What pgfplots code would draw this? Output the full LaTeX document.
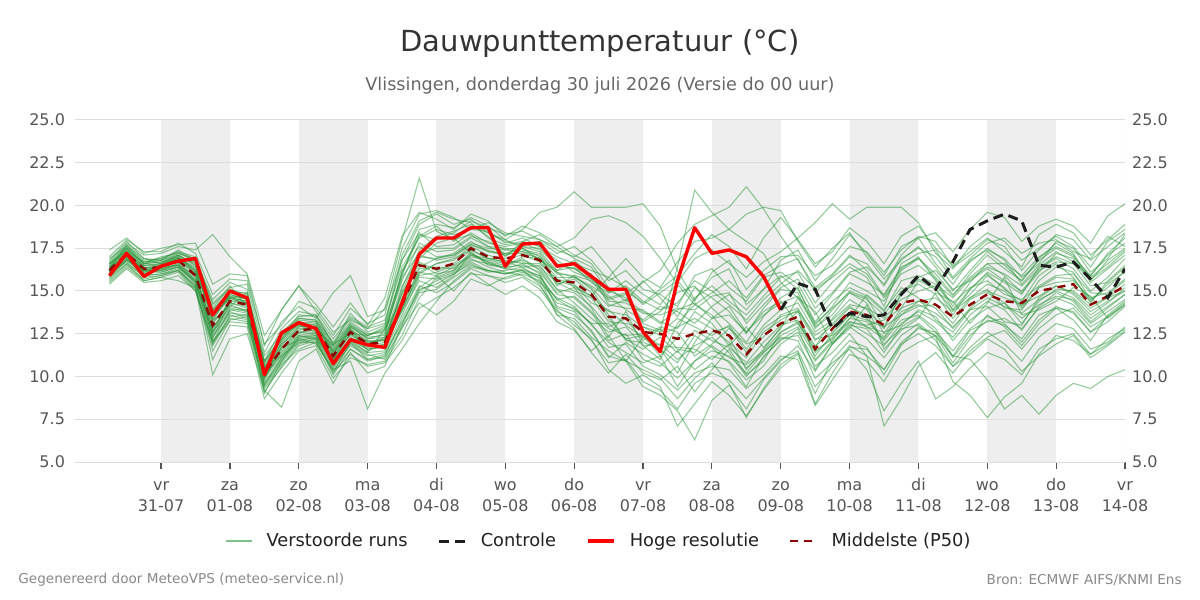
\documentclass[border=0pt]{standalone}
\usepackage{fontspec}
\setmainfont{DejaVu Sans}
\usepackage{pgfplots}
\pgfplotsset{compat=1.18}
\definecolor{ens}{RGB}{44,150,60}
\definecolor{band}{RGB}{238,238,238}
\definecolor{gridc}{RGB}{221,221,221}
\definecolor{tickc}{RGB}{85,85,85}
\definecolor{p50}{RGB}{140,0,0}
\definecolor{ctrl}{RGB}{30,30,30}
\definecolor{titlec}{RGB}{51,51,51}
\definecolor{subc}{RGB}{102,102,102}
\definecolor{footc}{RGB}{136,136,136}
\pgfplotsset{ensl/.style={ens, opacity=0.5, line width=0.55pt, forget plot}}
\newcommand{\tl}[2]{\begin{tabular}{@{}c@{}}#1\\#2\end{tabular}}
\begin{document}
\begin{tikzpicture}
\useasboundingbox (0,0) rectangle (600pt,300pt);
\node[font=\fontsize{14.5}{17}\selectfont, text=titlec] at (300pt,278pt) {Dauwpunttemperatuur (°C)};
\node[font=\fontsize{8.8}{10}\selectfont, text=subc] at (300pt,257pt) {Vlissingen, donderdag 30 juli 2026 (Versie do 00 uur)};
\node[font=\fontsize{6.8}{8}\selectfont, text=footc, anchor=west, inner sep=0pt] at (9pt,10pt) {Gegenereerd door MeteoVPS (meteo-service.nl)};
\node[font=\fontsize{6.8}{8}\selectfont, text=footc, anchor=east, inner sep=0pt] at (591pt,10pt) {Bron: ECMWF AIFS/KNMI Ens};
\begin{axis}[
  at={(37.5pt,69pt)}, anchor=south west,
  scale only axis, width=525pt, height=171pt,
  xmin=-0.25, xmax=15, ymin=5, ymax=25,
  axis line style={draw=none},
  ytick={5,7.5,10,12.5,15,17.5,20,22.5,25},
  y tick style={draw=none},
  /pgf/number format/assume math mode=true,
  yticklabel style={/pgf/number format/fixed, /pgf/number format/fixed zerofill, /pgf/number format/precision=1, font=\fontsize{8}{10}\selectfont, text=tickc, xshift=2pt},
  xtick={1,...,15},
  xticklabels={{\tl{vr}{31-07}},{\tl{za}{01-08}},{\tl{zo}{02-08}},{\tl{ma}{03-08}},{\tl{di}{04-08}},{\tl{wo}{05-08}},{\tl{do}{06-08}},{\tl{vr}{07-08}},{\tl{za}{08-08}},{\tl{zo}{09-08}},{\tl{ma}{10-08}},{\tl{di}{11-08}},{\tl{wo}{12-08}},{\tl{do}{13-08}},{\tl{vr}{14-08}}},
  xticklabel style={font=\fontsize{8}{10.5}\selectfont, text=tickc},
  xtick pos=bottom, tick align=outside, major tick length=3.5pt,
  x tick style={tickc, line width=0.6pt},
  legend columns=4,
  legend style={at={(0.5,-0.231)}, anchor=center, draw=none, fill=none,
    font=\fontsize{8.9}{10}\selectfont, text=black!87,
    /tikz/every odd column/.append style={column sep=5pt},
    /tikz/every even column/.append style={column sep=13pt}},
  legend image code/.code={\draw[#1] (0pt,0pt) -- (13pt,0pt);},
]
% day bands
\fill[band] (axis cs:1,5) rectangle (axis cs:2,25);
\fill[band] (axis cs:3,5) rectangle (axis cs:4,25);
\fill[band] (axis cs:5,5) rectangle (axis cs:6,25);
\fill[band] (axis cs:7,5) rectangle (axis cs:8,25);
\fill[band] (axis cs:9,5) rectangle (axis cs:10,25);
\fill[band] (axis cs:11,5) rectangle (axis cs:12,25);
\fill[band] (axis cs:13,5) rectangle (axis cs:14,25);
% horizontal grid
\draw[gridc, line width=0.5pt] (axis cs:-0.25,5) -- (axis cs:15,5);
\draw[gridc, line width=0.5pt] (axis cs:-0.25,7.5) -- (axis cs:15,7.5);
\draw[gridc, line width=0.5pt] (axis cs:-0.25,10) -- (axis cs:15,10);
\draw[gridc, line width=0.5pt] (axis cs:-0.25,12.5) -- (axis cs:15,12.5);
\draw[gridc, line width=0.5pt] (axis cs:-0.25,15) -- (axis cs:15,15);
\draw[gridc, line width=0.5pt] (axis cs:-0.25,17.5) -- (axis cs:15,17.5);
\draw[gridc, line width=0.5pt] (axis cs:-0.25,20) -- (axis cs:15,20);
\draw[gridc, line width=0.5pt] (axis cs:-0.25,22.5) -- (axis cs:15,22.5);
\draw[gridc, line width=0.5pt] (axis cs:-0.25,25) -- (axis cs:15,25);
\draw[gridc, line width=0.5pt] (axis cs:15,5) -- (axis cs:15,25);
% ensemble members (6-hourly)
\addplot[ensl] coordinates {(0.25,16.5)(0.5,17.6)(0.75,16.8)(1,16.9)(1.25,17.3)(1.5,17.0)(1.75,14.2)(2,15.1)(2.25,14.8)(2.5,11.2)(2.75,12.5)(3,13.4)(3.25,13.3)(3.5,12.0)(3.75,13.4)(4,12.8)(4.25,14.0)(4.5,18.0)(4.75,21.6)(5,18.5)
(5.25,18.0)(5.5,18.3)(5.75,17.6)(6,17.2)(6.25,17.5)(6.5,17.0)(6.75,16.2)(7,16.8)(7.25,15.9)(7.5,14.5)(7.75,14.8)(8,13.2)(8.25,13.8)(8.5,14.9)(8.75,15.3)(9,14.0)(9.25,13.1)(9.5,12.0)(9.75,13.5)(10,14.6)
(10.25,15.2)(10.5,13.0)(10.75,14.1)(11,15.5)(11.25,15.0)(11.5,14.4)(11.75,16.2)(12,16.9)(12.25,15.8)(12.5,14.7)(12.75,16.0)(13,17.1)(13.25,16.3)(13.5,15.6)(13.75,16.9)(14,17.8)(14.25,17.2)(14.5,15.5)(14.75,16.3)(15,17.1)};
\addplot[ensl] coordinates {(0.25,15.6)(0.5,16.5)(0.75,15.7)(1,15.9)(1.25,16.2)(1.5,15.1)(1.75,11.8)(2,13.5)(2.25,13.6)(2.5,9.4)(2.75,10.7)(3,11.6)(3.25,12.0)(3.5,10.3)(3.75,11.3)(4,10.6)(4.25,10.8)(4.5,12.1)(4.75,14.0)(5,14.6)
(5.25,15.2)(5.5,16.0)(5.75,15.9)(6,15.5)(6.25,15.8)(6.5,15.1)(6.75,13.8)(7,13.2)(7.25,12.1)(7.5,10.8)(7.75,11.0)(8,9.7)(8.25,9.2)(8.5,8.1)(8.75,9.6)(9,10.2)(9.25,9.8)(9.5,8.7)(9.75,9.9)(10,11.0)
(10.25,11.5)(10.5,9.4)(10.75,10.6)(11,11.8)(11.25,11.2)(11.5,10.4)(11.75,11.9)(12,12.5)(12.25,11.8)(12.5,10.6)(12.75,11.7)(13,12.6)(13.25,11.9)(13.5,10.9)(13.75,12.3)(14,13.1)(14.25,12.8)(14.5,11.6)(14.75,12.0)(15,12.9)};
\addplot[ensl] coordinates {(0.25,16.1)(0.5,17.3)(0.75,16.1)(1,16.5)(1.25,16.9)(1.5,16.4)(1.75,13.3)(2,14.8)(2.25,14.5)(2.5,10.0)(2.75,12.0)(3,13.0)(3.25,12.6)(3.5,10.8)(3.75,12.2)(4,11.6)(4.25,11.8)(4.5,15.2)(4.75,17.4)(5,18.2)
(5.25,18.5)(5.5,18.9)(5.75,18.2)(6,17.0)(6.25,17.9)(6.5,17.6)(6.75,16.8)(7,16.1)(7.25,15.7)(7.5,15.0)(7.75,14.6)(8,13.1)(8.25,12.7)(8.5,16.4)(8.75,20.9)(9,19.6)(9.25,18.6)(9.5,17.9)(9.75,17.2)(10,15.5)
(10.25,14.6)(10.5,12.9)(10.75,13.6)(11,14.9)(11.25,14.3)(11.5,12.5)(11.75,14.0)(12,15.6)(12.25,15.1)(12.5,13.9)(12.75,14.8)(13,15.9)(13.25,15.2)(13.5,14.1)(13.75,15.6)(14,16.4)(14.25,16.1)(14.5,14.5)(14.75,15.2)(15,16.2)};
\addplot[ensl] coordinates {(0.25,16.4)(0.5,17.0)(0.75,16.4)(1,16.2)(1.25,16.6)(1.5,15.6)(1.75,12.6)(2,14.1)(2.25,13.9)(2.5,9.0)(2.75,10.9)(3,12.3)(3.25,12.5)(3.5,11.0)(3.75,12.8)(4,11.5)(4.25,11.9)(4.5,13.8)(4.75,15.6)(5,15.2)
(5.25,15.9)(5.5,17.2)(5.75,16.7)(6,16.3)(6.25,16.6)(6.5,16.0)(6.75,14.1)(7,13.8)(7.25,12.6)(7.5,11.2)(7.75,10.9)(8,9.4)(8.25,8.9)(8.5,8.0)(8.75,6.3)(9,8.6)(9.25,9.5)(9.5,8.1)(9.75,9.8)(10,10.9)
(10.25,11.8)(10.5,10.3)(10.75,11.9)(11,13.0)(11.25,12.8)(11.5,11.4)(11.75,12.9)(12,13.5)(12.25,12.6)(12.5,11.1)(12.75,12.4)(13,13.3)(13.25,13.0)(13.5,12.2)(13.75,13.6)(14,14.0)(14.25,13.8)(14.5,12.6)(14.75,13.2)(15,14.1)};
\addplot[ensl] coordinates {(0.25,16.8)(0.5,17.9)(0.75,16.9)(1,16.8)(1.25,17.4)(1.5,16.8)(1.75,13.9)(2,14.9)(2.25,14.9)(2.5,10.8)(2.75,12.3)(3,13.6)(3.25,13.5)(3.5,11.9)(3.75,13.2)(4,12.5)(4.25,12.6)(4.5,15.9)(4.75,18.6)(5,18.9)
(5.25,18.7)(5.5,19.3)(5.75,18.8)(6,18.0)(6.25,18.6)(6.5,19.6)(6.75,19.9)(7,20.8)(7.25,19.9)(7.5,19.9)(7.75,19.9)(8,20.1)(8.25,18.8)(8.5,16.2)(8.75,14.5)(9,15.8)(9.25,16.3)(9.5,14.2)(9.75,15.1)(10,16.8)
(10.25,17.4)(10.5,15.6)(10.75,16.9)(11,18.3)(11.25,17.2)(11.5,15.9)(11.75,17.6)(12,18.1)(12.25,16.6)(12.5,15.4)(12.75,16.8)(13,17.4)(13.25,16.9)(13.5,15.8)(13.75,16.6)(14,17.9)(14.25,17.5)(14.5,16.1)(14.75,16.9)(15,18.3)};
\addplot[ensl] coordinates {(0.25,16.0)(0.5,16.9)(0.75,16.0)(1,16.3)(1.25,16.5)(1.5,15.5)(1.75,12.9)(2,14.0)(2.25,13.8)(2.5,10.3)(2.75,11.4)(3,12.5)(3.25,12.9)(3.5,11.4)(3.75,12.4)(4,11.9)(4.25,12.2)(4.5,14.9)(4.75,16.6)(5,16.0)
(5.25,16.2)(5.5,17.3)(5.75,16.5)(6,16.4)(6.25,16.9)(6.5,16.2)(6.75,14.9)(7,15.2)(7.25,14.0)(7.5,12.3)(7.75,13.8)(8,11.8)(8.25,11.0)(8.5,13.1)(8.75,14.2)(9,13.6)(9.25,12.3)(9.5,10.4)(9.75,11.6)(10,12.9)
(10.25,13.8)(10.5,11.0)(10.75,12.1)(11,13.4)(11.25,14.8)(11.5,13.9)(11.75,15.2)(12,14.6)(12.25,13.3)(12.5,12.6)(12.75,13.9)(13,14.1)(13.25,13.2)(13.5,13.0)(13.75,14.6)(14,15.3)(14.25,14.8)(14.5,13.8)(14.75,14.4)(15,15.0)};
\addplot[ensl] coordinates {(0.25,16.3)(0.5,17.5)(0.75,16.6)(1,16.7)(1.25,17.0)(1.5,16.1)(1.75,12.2)(2,14.4)(2.25,14.3)(2.5,9.8)(2.75,11.8)(3,12.9)(3.25,13.1)(3.5,11.3)(3.75,12.9)(4,12.3)(4.25,12.4)(4.5,16.2)(4.75,17.6)(5,17.0)
(5.25,17.1)(5.5,17.8)(5.75,17.5)(6,17.4)(6.25,17.3)(6.5,17.1)(6.75,15.3)(7,15.9)(7.25,15.1)(7.5,13.6)(7.75,12.1)(8,12.0)(8.25,11.6)(8.5,10.2)(8.75,12.0)(9,13.4)(9.25,14.1)(9.5,12.6)(9.75,13.8)(10,14.4)
(10.25,13.1)(10.5,11.7)(10.75,13.4)(11,14.5)(11.25,13.9)(11.5,12.8)(11.75,14.9)(12,15.8)(12.25,16.2)(12.5,15.1)(12.75,15.6)(13,16.3)(13.25,15.6)(13.5,15.0)(13.75,16.2)(14,16.7)(14.25,16.6)(14.5,15.3)(14.75,15.5)(15,16.4)};
\addplot[ensl] coordinates {(0.25,16.0)(0.5,17.1)(0.75,16.2)(1,16.1)(1.25,16.4)(1.5,15.4)(1.75,12.4)(2,13.8)(2.25,13.4)(2.5,9.6)(2.75,10.9)(3,12.1)(3.25,12.3)(3.5,10.6)(3.75,11.8)(4,11.2)(4.25,11.4)(4.5,13.2)(4.75,15.1)(5,15.4)
(5.25,16.0)(5.5,16.6)(5.75,16.1)(6,16.2)(6.25,16.4)(6.5,16.5)(6.75,15.1)(7,14.3)(7.25,13.4)(7.5,12.6)(7.75,12.9)(8,11.8)(8.25,11.9)(8.5,11.0)(8.75,11.8)(9,12.3)(9.25,11.4)(9.5,10.0)(9.75,11.1)(10,12.2)
(10.25,12.4)(10.5,10.6)(10.75,11.4)(11,12.5)(11.25,11.2)(11.5,7.1)(11.75,8.7)(12,10.6)(12.25,11.4)(12.5,10.2)(12.75,11.5)(13,12.3)(13.25,12.7)(13.5,11.6)(13.75,12.8)(14,13.6)(14.25,14.0)(14.5,12.9)(14.75,13.5)(15,14.2)};
\addplot[ensl] coordinates {(0.25,16.6)(0.5,17.4)(0.75,16.5)(1,16.6)(1.25,17.1)(1.5,16.6)(1.75,13.5)(2,14.6)(2.25,14.4)(2.5,10.6)(2.75,12.1)(3,13.2)(3.25,13.0)(3.5,11.6)(3.75,12.9)(4,12.2)(4.25,12.3)(4.5,15.3)(4.75,17.0)(5,16.9)
(5.25,17.2)(5.5,17.9)(5.75,17.3)(6,17.1)(6.25,17.6)(6.5,17.3)(6.75,16.2)(7,16.4)(7.25,15.5)(7.5,14.9)(7.75,15.6)(8,14.8)(8.25,14.2)(8.5,15.5)(8.75,16.9)(9,17.4)(9.25,16.6)(9.5,15.8)(9.75,16.7)(10,17.3)
(10.25,18.1)(10.5,19.0)(10.75,20.1)(11,19.2)(11.25,19.9)(11.5,19.9)(11.75,19.9)(12,19.0)(12.25,17.2)(12.5,16.3)(12.75,17.6)(13,18.4)(13.25,17.9)(13.5,16.8)(13.75,17.5)(14,18.2)(14.25,17.6)(14.5,16.4)(14.75,17.9)(15,18.6)};
\addplot[ensl] coordinates {(0.25,15.8)(0.5,16.8)(0.75,15.9)(1,16.0)(1.25,16.3)(1.5,15.2)(1.75,11.5)(2,13.3)(2.25,13.5)(2.5,10.1)(2.75,11.2)(3,12.0)(3.25,12.2)(3.5,10.2)(3.75,12.0)(4,11.0)(4.25,11.1)(4.5,12.9)(4.75,14.3)(5,13.6)
(5.25,14.4)(5.5,15.7)(5.75,15.3)(6,15.8)(6.25,16.1)(6.5,15.8)(6.75,14.5)(7,14.7)(7.25,13.8)(7.5,12.1)(7.75,12.5)(8,11.0)(8.25,10.6)(8.5,11.5)(8.75,10.4)(9,11.2)(9.25,10.9)(9.5,9.8)(9.75,10.6)(10,11.9)
(10.25,12.6)(10.5,10.9)(10.75,12.0)(11,12.9)(11.25,12.2)(11.5,11.1)(11.75,12.4)(12,13.1)(12.25,12.3)(12.5,9.7)(12.75,8.9)(13,7.6)(13.25,8.8)(13.5,9.6)(13.75,11.3)(14,12.4)(14.25,12.1)(14.5,11.3)(14.75,12.2)(15,12.8)};
\addplot[ensl] coordinates {(0.25,16.2)(0.5,17.1)(0.75,16.3)(1,16.5)(1.25,16.7)(1.5,15.8)(1.75,13.1)(2,14.3)(2.25,14.0)(2.5,10.4)(2.75,11.7)(3,12.6)(3.25,12.7)(3.5,11.0)(3.75,12.5)(4,11.8)(4.25,12.0)(4.5,14.3)(4.75,16.1)(5,15.9)
(5.25,16.4)(5.5,17.0)(5.75,16.8)(6,16.6)(6.25,16.8)(6.5,16.4)(6.75,15.5)(7,15.0)(7.25,14.6)(7.5,13.2)(7.75,13.1)(8,12.9)(8.25,12.4)(8.5,12.9)(8.75,13.4)(9,12.8)(9.25,12.0)(9.5,11.1)(9.75,12.6)(10,13.3)
(10.25,13.9)(10.5,12.4)(10.75,13.1)(11,14.1)(11.25,13.4)(11.5,12.1)(11.75,13.3)(12,13.6)(12.25,12.8)(12.5,11.2)(12.75,11.0)(13,9.8)(13.25,8.1)(13.5,8.9)(13.75,7.8)(14,8.9)(14.25,9.6)(14.5,9.3)(14.75,10.0)(15,10.4)};
\addplot[ensl] coordinates {(0.25,16.4)(0.5,17.3)(0.75,16.3)(1,16.6)(1.25,17.0)(1.5,16.3)(1.75,13.8)(2,14.7)(2.25,14.6)(2.5,10.9)(2.75,12.4)(3,13.0)(3.25,12.8)(3.5,11.8)(3.75,13.7)(4,12.6)(4.25,13.0)(4.5,16.8)(4.75,18.4)(5,17.6)
(5.25,17.7)(5.5,18.4)(5.75,17.8)(6,17.6)(6.25,17.8)(6.5,17.4)(6.75,16.5)(7,16.3)(7.25,16.0)(7.5,14.2)(7.75,14.0)(8,13.9)(8.25,13.2)(8.5,12.8)(8.75,14.6)(9,15.3)(9.25,14.4)(9.5,13.6)(9.75,14.7)(10,15.8)
(10.25,16.1)(10.5,14.3)(10.75,15.5)(11,16.4)(11.25,15.8)(11.5,14.1)(11.75,16.6)(12,17.2)(12.25,17.4)(12.5,15.8)(12.75,16.9)(13,17.8)(13.25,18.1)(13.5,17.2)(13.75,17.8)(14,18.0)(14.25,17.3)(14.5,16.9)(14.75,18.2)(15,17.6)};
\addplot[ensl] coordinates {(0.25,16.1)(0.5,17.2)(0.75,16.2)(1,16.3)(1.25,16.8)(1.5,16.0)(1.75,12.8)(2,14.3)(2.25,14.1)(2.5,9.9)(2.75,11.5)(3,12.6)(3.25,12.5)(3.5,10.9)(3.75,12.3)(4,11.7)(4.25,11.9)(4.5,14.0)(4.75,16.0)(5,16.6)
(5.25,16.8)(5.5,17.6)(5.75,17.1)(6,16.8)(6.25,16.6)(6.5,16.6)(6.75,15.7)(7,15.4)(7.25,14.3)(7.5,13.9)(7.75,13.0)(8,12.3)(8.25,12.9)(8.5,12.6)(8.75,11.2)(9,11.9)(9.25,12.8)(9.5,11.9)(9.75,12.3)(10,13.6)
(10.25,14.0)(10.5,12.2)(10.75,12.4)(11,13.2)(11.25,13.0)(11.5,13.3)(11.75,14.0)(12,14.4)(12.25,14.6)(12.5,13.8)(12.75,14.6)(13,15.1)(13.25,14.0)(13.5,13.9)(13.75,15.2)(14,15.5)(14.25,15.6)(14.5,14.6)(14.75,14.9)(15,15.7)};
\addplot[ensl] coordinates {(0.25,15.9)(0.5,16.9)(0.75,16.0)(1,16.2)(1.25,16.5)(1.5,15.6)(1.75,12.0)(2,13.9)(2.25,13.7)(2.5,9.7)(2.75,11.0)(3,12.2)(3.25,11.9)(3.5,10.4)(3.75,10.9)(4,8.1)(4.25,10.2)(4.5,11.6)(4.75,13.1)(5,14.4)
(5.25,15.6)(5.5,16.4)(5.75,16.2)(6,16.0)(6.25,16.2)(6.5,15.5)(6.75,14.6)(7,14.1)(7.25,13.0)(7.5,12.0)(7.75,11.4)(8,10.8)(8.25,11.2)(8.5,9.4)(8.75,10.9)(9,11.8)(9.25,11.1)(9.5,10.7)(9.75,11.5)(10,12.6)
(10.25,13.1)(10.5,11.4)(10.75,12.3)(11,13.4)(11.25,13.2)(11.5,12.3)(11.75,13.8)(12,14.2)(12.25,13.7)(12.5,12.9)(12.75,13.9)(13,14.6)(13.25,14.1)(13.5,13.7)(13.75,14.5)(14,15.0)(14.25,14.6)(14.5,13.6)(14.75,14.3)(15,15.2)};
\addplot[ensl] coordinates {(0.25,16.6)(0.5,17.7)(0.75,16.7)(1,16.8)(1.25,17.2)(1.5,16.8)(1.75,14.3)(2,15.2)(2.25,15.4)(2.5,11.4)(2.75,13.2)(3,14.1)(3.25,13.4)(3.5,14.9)(3.75,15.9)(4,13.5)(4.25,13.9)(4.5,16.8)(4.75,18.9)(5,19.5)
(5.25,18.9)(5.5,19.2)(5.75,18.4)(6,17.9)(6.25,17.7)(6.5,17.9)(6.75,17.2)(7,17.6)(7.25,16.8)(7.5,15.6)(7.75,16.2)(8,15.1)(8.25,14.8)(8.5,14.1)(8.75,15.9)(9,16.3)(9.25,15.2)(9.5,14.4)(9.75,15.8)(10,16.1)
(10.25,15.4)(10.5,13.6)(10.75,14.8)(11,16.0)(11.25,15.5)(11.5,14.8)(11.75,16.4)(12,16.9)(12.25,16.0)(12.5,14.8)(12.75,15.8)(13,16.6)(13.25,15.9)(13.5,14.9)(13.75,16.1)(14,17.2)(14.25,16.9)(14.5,15.7)(14.75,16.4)(15,17.3)};
\addplot[ensl] coordinates {(0.25,16.7)(0.5,17.8)(0.75,17.1)(1,17.2)(1.25,17.6)(1.5,17.4)(1.75,18.3)(2,17.0)(2.25,16.0)(2.5,12.4)(2.75,13.9)(3,15.3)(3.25,13.8)(3.5,12.4)(3.75,14.0)(4,13.1)(4.25,13.6)(4.5,17.5)(4.75,19.5)(5,19.7)
(5.25,19.3)(5.5,18.6)(5.75,19.0)(6,18.4)(6.25,18.2)(6.5,18.0)(6.75,17.4)(7,17.0)(7.25,17.6)(7.5,16.4)(7.75,15.0)(8,14.3)(8.25,15.1)(8.5,15.9)(8.75,17.2)(9,18.3)(9.25,17.6)(9.5,16.3)(9.75,18.1)(10,19.3)
(10.25,18.0)(10.5,16.6)(10.75,17.3)(11,18.7)(11.25,17.9)(11.5,16.6)(11.75,18.2)(12,18.8)(12.25,17.5)(12.5,16.5)(12.75,17.3)(13,18.1)(13.25,17.3)(13.5,16.4)(13.75,18.3)(14,18.9)(14.25,18.4)(14.5,17.1)(14.75,18.0)(15,18.9)};
\addplot[ensl] coordinates {(0.25,16.0)(0.5,16.7)(0.75,15.8)(1,15.9)(1.25,16.2)(1.5,15.3)(1.75,11.0)(2,13.0)(2.25,12.9)(2.5,8.7)(2.75,10.2)(3,11.5)(3.25,11.8)(3.5,9.9)(3.75,11.1)(4,10.7)(4.25,10.9)(4.5,12.4)(4.75,14.6)(5,15.8)
(5.25,16.2)(5.5,16.9)(5.75,16.4)(6,16.1)(6.25,15.9)(6.5,15.3)(6.75,13.9)(7,13.0)(7.25,12.2)(7.5,10.4)(7.75,9.6)(8,10.1)(8.25,9.4)(8.5,7.1)(8.75,8.4)(9,9.7)(9.25,8.9)(9.5,7.7)(9.75,9.2)(10,10.5)
(10.25,11.3)(10.5,9.0)(10.75,11.0)(11,12.1)(11.25,11.7)(11.5,10.1)(11.75,11.8)(12,12.9)(12.25,12.4)(12.5,10.8)(12.75,12.2)(13,13.6)(13.25,12.9)(13.5,11.8)(13.75,13.1)(14,14.0)(14.25,13.3)(14.5,12.1)(14.75,13.6)(15,14.4)};
\addplot[ensl] coordinates {(0.25,16.2)(0.5,17.0)(0.75,16.1)(1,16.3)(1.25,16.6)(1.5,15.7)(1.75,13.2)(2,14.2)(2.25,13.8)(2.5,10.0)(2.75,11.3)(3,12.4)(3.25,12.6)(3.5,11.1)(3.75,12.2)(4,12.1)(4.25,11.6)(4.5,14.1)(4.75,16.3)(5,16.4)
(5.25,16.3)(5.5,17.1)(5.75,16.7)(6,16.5)(6.25,17.0)(6.5,16.9)(6.75,15.4)(7,15.7)(7.25,14.9)(7.5,13.4)(7.75,12.2)(8,11.6)(8.25,12.3)(8.5,11.4)(8.75,12.7)(9,12.1)(9.25,11.7)(9.5,10.8)(9.75,12.0)(10,13.0)
(10.25,13.3)(10.5,11.8)(10.75,12.6)(11,13.6)(11.25,13.3)(11.5,12.9)(11.75,13.6)(12,14.1)(12.25,14.2)(12.5,13.1)(12.75,14.5)(13,15.0)(13.25,14.6)(13.5,14.2)(13.75,14.7)(14,15.3)(14.25,14.9)(14.5,14.0)(14.75,14.6)(15,15.0)};
\addplot[ensl] coordinates {(0.25,16.3)(0.5,17.2)(0.75,16.5)(1,16.5)(1.25,16.9)(1.5,16.2)(1.75,13.4)(2,14.6)(2.25,14.2)(2.5,10.5)(2.75,11.9)(3,12.9)(3.25,12.9)(3.5,11.5)(3.75,12.7)(4,12.1)(4.25,12.1)(4.5,15.0)(4.75,17.1)(5,16.8)
(5.25,17.0)(5.5,17.7)(5.75,17.3)(6,17.2)(6.25,17.2)(6.5,16.9)(6.75,15.8)(7,15.8)(7.25,15.3)(7.5,14.6)(7.75,14.9)(8,15.5)(8.25,16.2)(8.5,17.8)(8.75,18.9)(9,19.4)(9.25,19.9)(9.5,21.1)(9.75,19.8)(10,18.2)
(10.25,16.8)(10.5,15.2)(10.75,16.0)(11,17.1)(11.25,16.2)(11.5,14.7)(11.75,16.3)(12,17.0)(12.25,15.6)(12.5,13.9)(12.75,15.1)(13,16.0)(13.25,15.1)(13.5,14.4)(13.75,15.9)(14,16.6)(14.25,15.8)(14.5,14.3)(14.75,15.6)(15,16.5)};
\addplot[ensl] coordinates {(0.25,15.7)(0.5,16.6)(0.75,15.6)(1,15.8)(1.25,16.1)(1.5,15.0)(1.75,11.9)(2,13.6)(2.25,13.3)(2.5,9.3)(2.75,10.5)(3,11.8)(3.25,12.1)(3.5,10.1)(3.75,11.6)(4,10.9)(4.25,11.2)(4.5,13.4)(4.75,15.3)(5,14.9)
(5.25,15.5)(5.5,16.3)(5.75,15.9)(6,15.7)(6.25,16.0)(6.5,15.6)(6.75,14.3)(7,14.0)(7.25,13.1)(7.5,11.7)(7.75,11.9)(8,10.6)(8.25,10.1)(8.5,9.2)(8.75,10.2)(9,10.6)(9.25,10.4)(9.5,9.3)(9.75,10.1)(10,11.2)
(10.25,11.0)(10.5,8.3)(10.75,9.8)(11,11.3)(11.25,10.9)(11.5,9.7)(11.75,11.4)(12,12.0)(12.25,12.4)(12.5,11.2)(12.75,12.7)(13,13.2)(13.25,13.4)(13.5,12.8)(13.75,14.0)(14,14.6)(14.25,14.2)(14.5,13.1)(14.75,13.8)(15,14.5)};
\addplot[ensl] coordinates {(0.25,16.4)(0.5,17.4)(0.75,16.4)(1,16.4)(1.25,16.8)(1.5,16.0)(1.75,12.7)(2,14.5)(2.25,14.3)(2.5,10.2)(2.75,11.6)(3,12.8)(3.25,12.8)(3.5,11.2)(3.75,12.5)(4,11.9)(4.25,12.3)(4.5,14.8)(4.75,16.7)(5,16.2)
(5.25,16.6)(5.5,17.4)(5.75,16.9)(6,16.9)(6.25,17.1)(6.5,16.7)(6.75,15.6)(7,15.3)(7.25,14.7)(7.5,13.8)(7.75,13.6)(8,12.9)(8.25,12.6)(8.5,13.4)(8.75,12.9)(9,12.4)(9.25,13.0)(9.5,11.6)(9.75,13.0)(10,13.9)
(10.25,14.3)(10.5,12.6)(10.75,13.3)(11,14.2)(11.25,14.0)(11.5,13.4)(11.75,14.5)(12,15.0)(12.25,15.3)(12.5,14.3)(12.75,15.2)(13,15.6)(13.25,14.8)(13.5,14.5)(13.75,15.3)(14,15.9)(14.25,16.0)(14.5,14.9)(14.75,14.8)(15,15.6)};
\addplot[ensl] coordinates {(0.25,16.5)(0.5,17.5)(0.75,16.6)(1,16.7)(1.25,17.1)(1.5,16.5)(1.75,13.6)(2,14.8)(2.25,14.5)(2.5,10.7)(2.75,12.2)(3,13.3)(3.25,13.2)(3.5,11.7)(3.75,13.1)(4,12.4)(4.25,12.7)(4.5,15.6)(4.75,17.8)(5,17.3)
(5.25,17.4)(5.5,18.1)(5.75,17.6)(6,17.5)(6.25,17.4)(6.5,17.2)(6.75,16.0)(7,15.9)(7.25,15.6)(7.5,14.4)(7.75,14.3)(8,13.7)(8.25,13.6)(8.5,14.0)(8.75,13.9)(9,14.7)(9.25,14.9)(9.5,13.1)(9.75,14.2)(10,15.2)
(10.25,15.7)(10.5,14.0)(10.75,14.9)(11,16.1)(11.25,16.4)(11.5,15.4)(11.75,17.1)(12,18.1)(12.25,18.4)(12.5,17.3)(12.75,18.6)(13,19.6)(13.25,19.3)(13.5,17.9)(13.75,18.8)(14,19.2)(14.25,18.8)(14.5,17.8)(14.75,19.4)(15,20.1)};
\addplot[ensl] coordinates {(0.25,15.9)(0.5,16.8)(0.75,16.1)(1,16.1)(1.25,16.4)(1.5,15.5)(1.75,12.3)(2,13.7)(2.25,13.6)(2.5,9.5)(2.75,11.1)(3,12.3)(3.25,12.4)(3.5,10.7)(3.75,12.0)(4,11.4)(4.25,11.5)(4.5,13.6)(4.75,15.8)(5,15.7)
(5.25,16.1)(5.5,16.8)(5.75,16.6)(6,16.4)(6.25,16.5)(6.5,16.1)(6.75,14.8)(7,14.6)(7.25,13.7)(7.5,12.8)(7.75,12.4)(8,12.5)(8.25,11.8)(8.5,11.7)(8.75,11.6)(9,11.0)(9.25,11.9)(9.5,10.5)(9.75,11.4)(10,12.4)
(10.25,12.9)(10.5,11.2)(10.75,12.5)(11,13.6)(11.25,12.9)(11.5,12.6)(11.75,13.0)(12,13.9)(12.25,13.5)(12.5,12.1)(12.75,13.3)(13,14.0)(13.25,14.3)(13.5,13.4)(13.75,14.2)(14,14.7)(14.25,14.5)(14.5,13.4)(14.75,14.1)(15,14.8)};
\addplot[ensl] coordinates {(0.25,16.6)(0.5,17.5)(0.75,16.6)(1,16.8)(1.25,17.1)(1.5,16.5)(1.75,13.7)(2,14.6)(2.25,14.7)(2.5,10.5)(2.75,12.1)(3,13.1)(3.25,13.2)(3.5,11.5)(3.75,13.0)(4,12.2)(4.25,12.5)(4.5,15.8)(4.75,17.2)(5,17.5)
(5.25,17.5)(5.5,18.2)(5.75,17.9)(6,17.4)(6.25,17.6)(6.5,17.5)(6.75,16.6)(7,16.3)(7.25,15.7)(7.5,14.7)(7.75,13.9)(8,13.3)(8.25,14.1)(8.5,13.8)(8.75,13.1)(9,14.1)(9.25,14.8)(9.5,13.9)(9.75,15.1)(10,15.9)
(10.25,15.1)(10.5,13.2)(10.75,14.4)(11,15.2)(11.25,14.7)(11.5,13.8)(11.75,15.6)(12,15.9)(12.25,15.4)(12.5,14.6)(12.75,15.7)(13,16.4)(13.25,16.0)(13.5,15.3)(13.75,16.3)(14,16.9)(14.25,16.3)(14.5,15.0)(14.75,15.8)(15,16.9)};
\addplot[ensl] coordinates {(0.25,15.5)(0.5,16.4)(0.75,15.6)(1,15.8)(1.25,15.6)(1.5,15.2)(1.75,10.1)(2,12.2)(2.25,12.5)(2.5,9.2)(2.75,8.2)(3,10.9)(3.25,11.6)(3.5,9.6)(3.75,11.4)(4,10.2)(4.25,10.6)(4.5,13.0)(4.75,15.2)(5,15.9)
(5.25,15.0)(5.5,16.1)(5.75,15.4)(6,14.8)(6.25,15.3)(6.5,14.6)(6.75,13.2)(7,12.7)(7.25,11.5)(7.5,12.4)(7.75,10.9)(8,12.3)(8.25,11.6)(8.5,10.8)(8.75,12.4)(9,11.7)(9.25,10.8)(9.5,9.4)(9.75,11.2)(10,12.1)
(10.25,12.8)(10.5,10.4)(10.75,11.9)(11,13.1)(11.25,12.5)(11.5,11.8)(11.75,13.1)(12,13.8)(12.25,13.2)(12.5,12.3)(12.75,13.6)(13,14.4)(13.25,13.9)(13.5,12.7)(13.75,14.1)(14,14.9)(14.25,14.4)(14.5,13.2)(14.75,14.0)(15,14.8)};
\addplot[ensl] coordinates {(0.25,17.4)(0.5,18.1)(0.75,17.2)(1,17.5)(1.25,17.7)(1.5,17.8)(1.75,15.4)(2,16.0)(2.25,15.9)(2.5,11.8)(2.75,13.9)(3,15.3)(3.25,14.2)(3.5,12.9)(3.75,14.3)(4,13.0)(4.25,14.6)(4.5,18.2)(4.75,19.6)(5,19.2)
(5.25,18.6)(5.5,19.5)(5.75,19.1)(6,18.2)(6.25,18.8)(6.5,18.4)(6.75,17.8)(7,17.1)(7.25,16.6)(7.5,15.2)(7.75,14.4)(8,15.6)(8.25,14.6)(8.5,13.5)(8.75,15.2)(9,14.6)(9.25,13.8)(9.5,12.5)(9.75,14.0)(10,15.1)
(10.25,14.9)(10.5,12.8)(10.75,13.9)(11,15.0)(11.25,14.6)(11.5,12.9)(11.75,14.8)(12,15.7)(12.25,15.2)(12.5,13.6)(12.75,15.1)(13,16.1)(13.25,15.5)(13.5,14.8)(13.75,16.4)(14,17.0)(14.25,16.6)(14.5,15.9)(14.75,17.2)(15,18.1)};
\addplot[ensl] coordinates {(0.25,16.2)(0.5,17.0)(0.75,16.5)(1,16.6)(1.25,17.0)(1.5,16.2)(1.75,13.3)(2,14.1)(2.25,14.9)(2.5,10.6)(2.75,11.2)(3,12.4)(3.25,12.2)(3.5,11.0)(3.75,12.1)(4,11.4)(4.25,12.8)(4.5,14.4)(4.75,16.9)(5,17.8)
(5.25,18.1)(5.5,17.2)(5.75,16.6)(6,16.3)(6.25,16.2)(6.5,15.9)(6.75,14.5)(7,13.9)(7.25,13.1)(7.5,13.1)(7.75,12.2)(8,12.4)(8.25,11.2)(8.5,12.3)(8.75,13.8)(9,13.1)(9.25,11.8)(9.5,12.9)(9.75,11.7)(10,12.8)
(10.25,14.6)(10.5,13.8)(10.75,11.9)(11,12.8)(11.25,14.2)(11.5,11.6)(11.75,12.7)(12,13.4)(12.25,14.9)(12.5,14.4)(12.75,13.1)(13,14.3)(13.25,15.8)(13.5,13.6)(13.75,13.9)(14,14.4)(14.25,15.2)(14.5,14.7)(14.75,13.4)(15,14.2)};
\addplot[ensl] coordinates {(0.25,16.9)(0.5,17.6)(0.75,16.6)(1,17.0)(1.25,17.2)(1.5,16.9)(1.75,14.5)(2,15.5)(2.25,15.1)(2.5,10.9)(2.75,12.8)(3,13.8)(3.25,13.6)(3.5,12.2)(3.75,13.5)(4,12.9)(4.25,13.3)(4.5,16.4)(4.75,18.1)(5,18.6)
(5.25,18.3)(5.5,18.6)(5.75,18.5)(6,17.8)(6.25,18.1)(6.5,17.6)(6.75,17.0)(7,16.6)(7.25,16.2)(7.5,15.8)(7.75,15.2)(8,14.2)(8.25,14.9)(8.5,15.6)(8.75,14.4)(9,16.1)(9.25,16.8)(9.5,15.1)(9.75,16.2)(10,17.0)
(10.25,17.1)(10.5,15.9)(10.75,16.5)(11,17.6)(11.25,17.3)(11.5,16.1)(11.75,17.4)(12,18.2)(12.25,17.9)(12.5,16.4)(12.75,17.1)(13,18.0)(13.25,17.6)(13.5,16.2)(13.75,17.4)(14,18.3)(14.25,18.0)(14.5,16.8)(14.75,17.6)(15,18.4)};
\addplot[ensl] coordinates {(0.25,15.4)(0.5,16.3)(0.75,15.5)(1,15.6)(1.25,15.9)(1.5,15.0)(1.75,12.1)(2,13.2)(2.25,13.1)(2.5,9.1)(2.75,10.6)(3,11.9)(3.25,12.2)(3.5,10.5)(3.75,11.9)(4,11.3)(4.25,11.0)(4.5,12.8)(4.75,14.9)(5,15.1)
(5.25,15.8)(5.5,16.5)(5.75,16.2)(6,16.0)(6.25,16.3)(6.5,15.9)(6.75,14.0)(7,13.6)(7.25,12.7)(7.5,11.1)(7.75,12.0)(8,11.3)(8.25,10.8)(8.5,9.9)(8.75,10.9)(9,11.5)(9.25,11.2)(9.5,10.2)(9.75,11.4)(10,12.3)
(10.25,12.1)(10.5,9.9)(10.75,10.8)(11,11.6)(11.25,10.4)(11.5,8.0)(11.75,9.6)(12,10.9)(12.25,8.7)(12.5,9.4)(12.75,10.5)(13,11.4)(13.25,11.0)(13.5,10.1)(13.75,11.6)(14,12.2)(14.25,12.5)(14.5,11.3)(14.75,11.9)(15,12.7)};
\addplot[ensl] coordinates {(0.25,16.3)(0.5,17.7)(0.75,16.9)(1,16.6)(1.25,16.9)(1.5,16.7)(1.75,14.0)(2,15.3)(2.25,14.1)(2.5,10.3)(2.75,12.6)(3,13.5)(3.25,13.6)(3.5,11.9)(3.75,12.5)(4,12.4)(4.25,12.9)(4.5,16.0)(4.75,18.2)(5,18.8)
(5.25,17.9)(5.5,18.8)(5.75,18.4)(6,18.0)(6.25,17.5)(6.5,16.8)(6.75,16.1)(7,15.2)(7.25,14.7)(7.5,15.8)(7.75,16.9)(8,15.8)(8.25,15.2)(8.5,16.7)(8.75,17.9)(9,18.1)(9.25,18.6)(9.5,19.5)(9.75,19.9)(10,19.7)
(10.25,17.9)(10.5,16.4)(10.75,17.5)(11,18.4)(11.25,17.0)(11.5,15.7)(11.75,16.8)(12,17.6)(12.25,16.4)(12.5,15.0)(12.75,16.2)(13,17.3)(13.25,16.5)(13.5,15.6)(13.75,16.8)(14,17.5)(14.25,17.0)(14.5,15.9)(14.75,17.1)(15,17.8)};
\addplot[ensl] coordinates {(0.25,16.1)(0.5,16.9)(0.75,16.2)(1,16.4)(1.25,16.5)(1.5,15.9)(1.75,12.5)(2,14.6)(2.25,14.4)(2.5,10.1)(2.75,11.7)(3,12.1)(3.25,12.3)(3.5,11.3)(3.75,12.6)(4,12.0)(4.25,12.2)(4.5,13.9)(4.75,15.9)(5,16.1)
(5.25,16.5)(5.5,17.1)(5.75,16.9)(6,16.7)(6.25,16.7)(6.5,16.3)(6.75,15.1)(7,14.9)(7.25,14.1)(7.5,12.9)(7.75,13.4)(8,12.1)(8.25,12.8)(8.5,11.6)(8.75,11.4)(9,12.6)(9.25,12.9)(9.5,11.4)(9.75,12.8)(10,13.5)
(10.25,13.8)(10.5,12.1)(10.75,13.0)(11,14.0)(11.25,13.6)(11.5,11.9)(11.75,12.8)(12,13.0)(12.25,12.1)(12.5,10.6)(12.75,11.3)(13,12.2)(13.25,11.6)(13.5,10.3)(13.75,11.2)(14,11.9)(14.25,12.4)(14.5,11.1)(14.75,11.8)(15,12.6)};
\addplot[ensl] coordinates {(0.25,17.0)(0.5,18.0)(0.75,17.3)(1,17.3)(1.25,17.8)(1.5,17.2)(1.75,14.8)(2,15.7)(2.25,15.6)(2.5,11.9)(2.75,13.0)(3,14.4)(3.25,14.0)(3.5,12.6)(3.75,13.3)(4,12.8)(4.25,13.1)(4.5,17.1)(4.75,19.1)(5,19.6)
(5.25,19.2)(5.5,19.0)(5.75,18.1)(6,17.7)(6.25,17.9)(6.5,18.3)(6.75,17.6)(7,16.9)(7.25,16.4)(7.5,14.9)(7.75,15.3)(8,14.4)(8.25,13.9)(8.5,14.3)(8.75,15.6)(9,15.0)(9.25,14.2)(9.5,13.3)(9.75,14.5)(10,15.4)
(10.25,16.2)(10.5,15.1)(10.75,15.8)(11,16.6)(11.25,16.0)(11.5,14.6)(11.75,16.0)(12,16.5)(12.25,15.7)(12.5,14.1)(12.75,15.5)(13,16.6)(13.25,16.6)(13.5,15.9)(13.75,17.0)(14,17.6)(14.25,17.1)(14.5,15.8)(14.75,16.6)(15,17.4)};
\addplot[ensl] coordinates {(0.25,16.0)(0.5,16.8)(0.75,16.2)(1,16.2)(1.25,16.4)(1.5,15.6)(1.75,12.6)(2,13.9)(2.25,13.9)(2.5,9.9)(2.75,11.1)(3,12.2)(3.25,12.4)(3.5,10.9)(3.75,12.1)(4,11.6)(4.25,11.7)(4.5,13.9)(4.75,16.1)(5,16.6)
(5.25,16.9)(5.5,17.4)(5.75,16.9)(6,16.7)(6.25,16.4)(6.5,15.7)(6.75,13.6)(7,12.8)(7.25,11.4)(7.5,10.2)(7.75,11.3)(8,10.2)(8.25,9.8)(8.5,10.6)(8.75,9.1)(9,10.4)(9.25,11.6)(9.5,10.1)(9.75,10.9)(10,12.6)
(10.25,13.2)(10.5,11.5)(10.75,12.2)(11,13.2)(11.25,12.9)(11.5,12.2)(11.75,13.6)(12,14.4)(12.25,14.0)(12.5,12.8)(12.75,14.0)(13,14.9)(13.25,14.3)(13.5,13.1)(13.75,14.4)(14,15.1)(14.25,15.0)(14.5,14.2)(14.75,14.6)(15,15.4)};
\addplot[ensl] coordinates {(0.25,16.4)(0.5,17.1)(0.75,16.2)(1,16.5)(1.25,16.9)(1.5,16.1)(1.75,13.6)(2,14.7)(2.25,14.3)(2.5,10.4)(2.75,11.9)(3,12.7)(3.25,13.0)(3.5,11.4)(3.75,12.8)(4,12.0)(4.25,12.1)(4.5,14.6)(4.75,16.4)(5,16.9)
(5.25,17.1)(5.5,17.7)(5.75,17.4)(6,17.1)(6.25,17.3)(6.5,16.9)(6.75,16.1)(7,15.8)(7.25,15.2)(7.5,14.1)(7.75,14.5)(8,13.8)(8.25,13.1)(8.5,13.9)(8.75,14.3)(9,13.4)(9.25,13.6)(9.5,12.6)(9.75,13.6)(10,14.3)
(10.25,14.7)(10.5,13.1)(10.75,14.0)(11,14.9)(11.25,14.5)(11.5,13.6)(11.75,15.0)(12,15.4)(12.25,14.8)(12.5,13.4)(12.75,14.6)(13,15.4)(13.25,15.0)(13.5,14.0)(13.75,15.2)(14,15.8)(14.25,15.7)(14.5,14.4)(14.75,15.4)(15,16.1)};
\addplot[ensl] coordinates {(0.25,16.6)(0.5,17.3)(0.75,16.7)(1,16.9)(1.25,17.3)(1.5,16.7)(1.75,13.9)(2,15.0)(2.25,14.6)(2.5,10.9)(2.75,12.2)(3,13.4)(3.25,13.3)(3.5,11.8)(3.75,13.0)(4,12.4)(4.25,12.8)(4.5,16.1)(4.75,18.3)(5,18.0)
(5.25,18.4)(5.5,19.1)(5.75,18.7)(6,18.3)(6.25,18.5)(6.5,18.0)(6.75,17.6)(7,18.1)(7.25,19.2)(7.5,19.4)(7.75,19.0)(8,18.2)(8.25,16.9)(8.5,15.4)(8.75,14.2)(9,14.9)(9.25,15.6)(9.5,14.6)(9.75,15.9)(10,16.5)
(10.25,16.9)(10.5,14.9)(10.75,15.9)(11,17.0)(11.25,16.6)(11.5,15.3)(11.75,16.9)(12,17.5)(12.25,17.0)(12.5,15.7)(12.75,16.7)(13,17.5)(13.25,16.8)(13.5,15.4)(13.75,16.5)(14,17.3)(14.25,16.7)(14.5,15.6)(14.75,16.8)(15,17.5)};
\addplot[ensl] coordinates {(0.25,15.8)(0.5,16.6)(0.75,15.9)(1,16.0)(1.25,16.2)(1.5,15.3)(1.75,12.0)(2,13.4)(2.25,13.2)(2.5,9.5)(2.75,10.8)(3,12.0)(3.25,12.0)(3.5,10.4)(3.75,11.6)(4,11.0)(4.25,11.3)(4.5,13.1)(4.75,15.0)(5,15.6)
(5.25,16.0)(5.5,16.7)(5.75,16.2)(6,16.0)(6.25,16.2)(6.5,15.4)(6.75,13.6)(7,13.4)(7.25,12.3)(7.5,11.5)(7.75,10.9)(8,10.4)(8.25,9.9)(8.5,8.7)(8.75,9.9)(9,10.8)(9.25,9.6)(9.5,7.6)(9.75,9.3)(10,10.7)
(10.25,11.4)(10.5,8.4)(10.75,10.2)(11,11.7)(11.25,11.6)(11.5,10.4)(11.75,12.0)(12,12.8)(12.25,12.6)(12.5,11.5)(12.75,12.8)(13,13.5)(13.25,13.1)(13.5,12.0)(13.75,13.3)(14,14.1)(14.25,13.7)(14.5,12.6)(14.75,13.5)(15,14.3)};
% median (P50)
\addplot[p50, line width=1.2pt, dash pattern=on 4pt off 3pt, forget plot] coordinates {(0.25,16.2)(0.5,17.2)(0.75,16.3)(1,16.4)(1.25,16.8)(1.5,15.9)(1.75,13.0)(2,14.4)(2.25,14.2)(2.5,10.2)(2.75,11.6)(3,12.7)(3.25,12.8)(3.5,11.2)(3.75,12.6)(4,11.9)(4.25,12.0)(4.5,14.2)(4.75,16.5)(5,16.3)
(5.25,16.6)(5.5,17.5)(5.75,17.0)(6,16.9)(6.25,17.1)(6.5,16.8)(6.75,15.6)(7,15.5)(7.25,14.8)(7.5,13.5)(7.75,13.4)(8,12.6)(8.25,12.5)(8.5,12.2)(8.75,12.5)(9,12.7)(9.25,12.4)(9.5,11.3)(9.75,12.4)(10,13.1)
(10.25,13.5)(10.5,11.6)(10.75,12.8)(11,13.8)(11.25,13.6)(11.5,13.0)(11.75,14.3)(12,14.5)(12.25,14.2)(12.5,13.5)(12.75,14.2)(13,14.8)(13.25,14.4)(13.5,14.3)(13.75,15.0)(14,15.2)(14.25,15.4)(14.5,14.2)(14.75,14.7)(15,15.3)};
% high resolution
\addplot[red, line width=1.7pt, line join=round, forget plot] coordinates {(0.25,15.9)(0.5,17.2)(0.75,15.85)(1,16.45)(1.25,16.75)(1.5,16.9)(1.75,13.6)(2,15.0)(2.25,14.6)(2.5,10.1)(2.75,12.55)(3,13.15)(3.25,12.8)(3.5,10.75)(3.75,12.15)(4,11.85)(4.25,11.7)(4.5,14.3)(4.75,17.15)(5,18.1)
(5.25,18.1)(5.5,18.7)(5.75,18.7)(6,16.45)(6.25,17.75)(6.5,17.8)(6.75,16.45)(7,16.6)(7.25,15.85)(7.5,15.1)(7.75,15.1)(8,12.6)(8.25,11.45)(8.5,15.6)(8.75,18.7)(9,17.2)(9.25,17.4)(9.5,17.0)(9.75,15.85)(10,13.9)};
% control
\addplot[ctrl, line width=1.5pt, dash pattern=on 5pt off 3pt, forget plot] coordinates {(10,13.9)(10.25,15.45)(10.5,15.1)(10.75,12.8)(11,13.7)(11.25,13.5)(11.5,13.6)(11.75,14.8)(12,15.9)(12.25,15.1)(12.5,16.7)(12.75,18.6)(13,19.1)(13.25,19.5)(13.5,19.1)(13.75,16.5)(14,16.4)(14.25,16.7)(14.5,15.7)(14.75,14.6)(15,16.3)};
\addlegendimage{ens, opacity=0.6, line width=0.55pt}
\addlegendentry{Verstoorde runs}
\addlegendimage{ctrl, line width=1.5pt, dash pattern=on 5pt off 3pt}
\addlegendentry{Controle}
\addlegendimage{red, line width=1.9pt}
\addlegendentry{Hoge resolutie}
\addlegendimage{p50, line width=1.2pt, dash pattern=on 4pt off 3pt}
\addlegendentry{Middelste (P50)}
\end{axis}
\begin{axis}[
  at={(37.5pt,69pt)}, anchor=south west,
  scale only axis, width=525pt, height=171pt,
  xmin=-0.25, xmax=15, ymin=5, ymax=25,
  hide x axis, axis y line*=right, y axis line style={draw=none},
  ytick={5,7.5,10,12.5,15,17.5,20,22.5,25},
  y tick style={draw=none},
  /pgf/number format/assume math mode=true,
  yticklabel style={/pgf/number format/fixed, /pgf/number format/fixed zerofill, /pgf/number format/precision=1, font=\fontsize{8}{10}\selectfont, text=tickc},
]
\addplot[draw=none, forget plot] coordinates {(0,5)(15,25)};
\end{axis}
\end{tikzpicture}
\end{document}
